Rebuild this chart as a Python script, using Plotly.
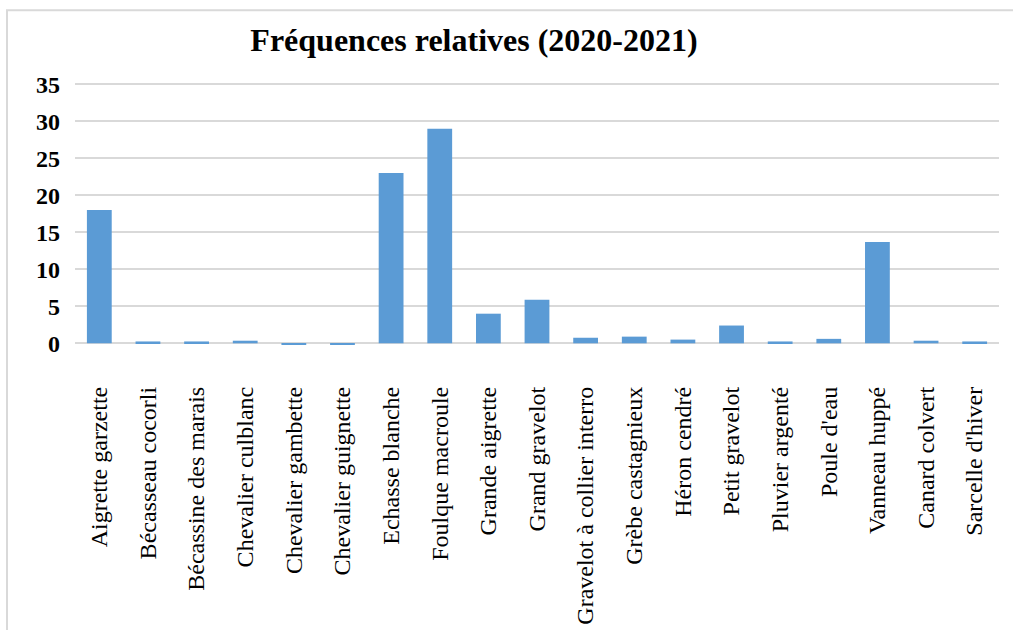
import plotly.graph_objects as go

# Espèces observées et fréquences relatives (%)
especes = [
    "Aigrette garzette", "Bécasseau cocorli", "Bécassine des marais",
    "Chevalier culblanc", "Chevalier gambette", "Chevalier guignette",
    "Echasse blanche", "Foulque macroule", "Grande aigrette", "Grand gravelot",
    "Gravelot à collier interro", "Grèbe castagnieux", "Héron cendré",
    "Petit gravelot", "Pluvier argenté", "Poule d'eau", "Vanneau huppé",
    "Canard colvert", "Sarcelle d'hiver",
]
frequences = [18, 0.25, 0.25, 0.35, -0.2, -0.2, 23, 29, 4, 5.9,
              0.75, 0.9, 0.5, 2.4, 0.25, 0.6, 13.7, 0.35, 0.25]
y_ticks = [0, 5, 10, 15, 20, 25, 30, 35]

W, H = 1013, 630
ML, MR, MT, MB = 75, 14, 81.8, 282.6
plot_w = W - ML - MR
plot_h = H - MT - MB

def px_x(px):
    return (px - ML) / plot_w

def px_y(py):
    return (H - MB - py) / plot_h

serif = "Liberation Serif, Times New Roman, serif"
grid = "#d9d9d9"

fig = go.Figure(go.Bar(
    x=especes, y=frequences,
    marker=dict(color="#5b9bd5", line=dict(width=0)),
    width=0.51,
))

fig.update_layout(
    width=W, height=H,
    margin=dict(l=ML, r=MR, t=MT, b=MB, pad=0, autoexpand=False),
    paper_bgcolor="white", plot_bgcolor="white",
    showlegend=False,
    title=dict(
        text="<b>Fréquences relatives (2020-2021)</b>",
        font=dict(family=serif, size=32, color="black"),
        x=px_x(474), xref="paper", xanchor="center",
        y=1 - 40 / H, yref="container", yanchor="middle",
    ),
    xaxis=dict(
        automargin=False,
        tickangle=-90,
        tickfont=dict(family=serif, size=24, color="black"),
        showgrid=False, showline=False, ticks="",
        ticklabelstandoff=34,
        range=[-0.5, len(especes) - 0.5],
    ),
    yaxis=dict(
        automargin=False,
        range=[-0.5, 35.3],
        tickvals=y_ticks,
        ticktext=[f"<b>{v}</b>" for v in y_ticks],
        tickfont=dict(family=serif, size=24, color="black"),
        showgrid=True, gridcolor=grid, gridwidth=2,
        zeroline=True, zerolinecolor=grid, zerolinewidth=2,
        showline=False, ticks="",
        ticklabelstandoff=14,
    ),
    shapes=[dict(
        type="rect", xref="paper", yref="paper",
        x0=px_x(7), x1=px_x(1018), y0=px_y(640), y1=px_y(10),
        line=dict(color=grid, width=2), fillcolor="rgba(0,0,0,0)",
        layer="below",
    )],
)

fig.write_html("out.html")
